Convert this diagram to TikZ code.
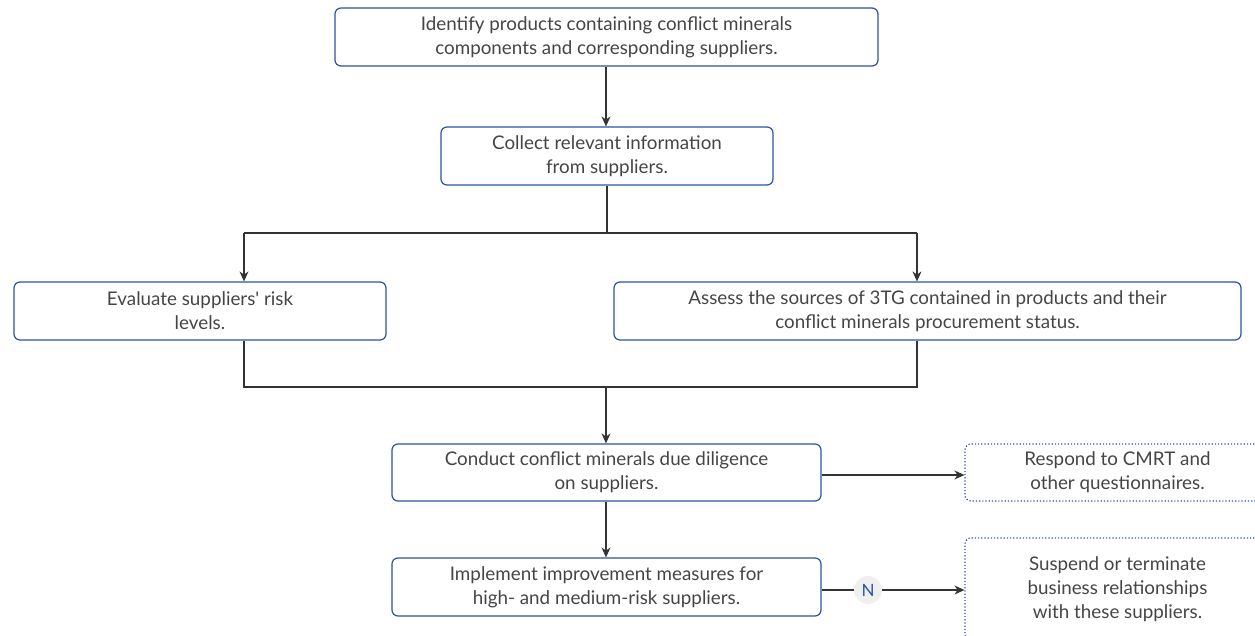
\documentclass[tikz,border=0pt]{standalone}
\usepackage{fontspec}
\setmainfont{Lato}
\usetikzlibrary{arrows.meta}
\definecolor{boxblue}{HTML}{2A52A8}
\definecolor{txtgray}{HTML}{454545}
\definecolor{linegray}{HTML}{333333}
\definecolor{ncircle}{HTML}{EFEFF2}
\begin{document}
\begin{tikzpicture}[x=0.5pt, y=-0.5pt,
    font=\fontsize{9.4}{12}\selectfont, text=txtgray,
    stepbox/.style={draw=boxblue, line width=0.6pt, rounded corners=3pt,
      align=center, minimum height=29pt, inner sep=0pt},
    sidebox/.style={stepbox, densely dotted},
    flow/.style={draw=linegray, line width=0.6pt},
    arr/.style={flow, -{Stealth[length=5pt, width=4.5pt]}}]
  \useasboundingbox (0,0) rectangle (1255,636);
        \node [stepbox, minimum width=271.5pt] (identify) at (606.5,37)
          {Identify products containing conflict minerals\\components and corresponding suppliers.};
        \node [stepbox, minimum width=166pt] (collect) at (607,156)
          {Collect relevant information\\from suppliers.};
        \node [stepbox, minimum width=186pt] (evaluate) at (200,311)
          {Evaluate suppliers\textquotesingle{} risk\\levels.};
        \node [stepbox, minimum width=313.5pt] (assess) at (927.5,311)
          {Assess the sources of 3TG contained in products and their\\conflict minerals procurement status.};
        \node [stepbox, minimum width=214.5pt, minimum height=28.5pt] (conduct) at (606.5,472.5)
          {Conduct conflict minerals due diligence\\on suppliers.};
        \node [stepbox, minimum width=214.5pt] (implement) at (606.5,587)
          {Implement improvement measures for\\high- and medium-risk suppliers.};
        \node [sidebox, minimum width=152.5pt, minimum height=28.5pt] (respond) at (1117.5,472.5)
          {Respond to CMRT and\\other questionnaires.};
        \node [sidebox, minimum width=152.5pt, minimum height=51pt] (suspend) at (1117.5,589)
          {Suspend or terminate\\business relationships\\with these suppliers.};
        \node [circle, fill=ncircle, minimum size=14pt, inner sep=0pt,
          text=boxblue, font=\fontsize{8.5}{9}\selectfont] (no) at (868,590) {N};
        % junctions
        \coordinate (split) at (607,233);
        \coordinate (splitL) at (244,233);
        \coordinate (splitR) at (917,233);
        \coordinate (joinL) at (244,387);
        \coordinate (joinR) at (917,387);
        \coordinate (join) at (606,387);
        \draw[arr] (identify.south -| 606,0) -- (collect.north -| 606,0);
        \draw[flow] (collect.south) -- (split);
        \draw[flow] (splitL) -- (splitR);
        \draw[arr] (splitL) -- (evaluate.north -| splitL);
        \draw[arr] (splitR) -- (assess.north -| splitR);
        \draw[flow] (evaluate.south -| joinL) -- (joinL) -- (joinR) -- (assess.south -| joinR);
        \draw[arr] (join) -- (conduct.north -| join);
        \draw[arr] (conduct.south -| join) -- (implement.north -| join);
        \draw[arr] (conduct.east |- 0,475) -- (respond.west |- 0,475);
        \draw[flow] (implement.east |- no) -- (no);
        \draw[arr] (no) -- (suspend.west |- no);
      \end{tikzpicture}
\end{document}
